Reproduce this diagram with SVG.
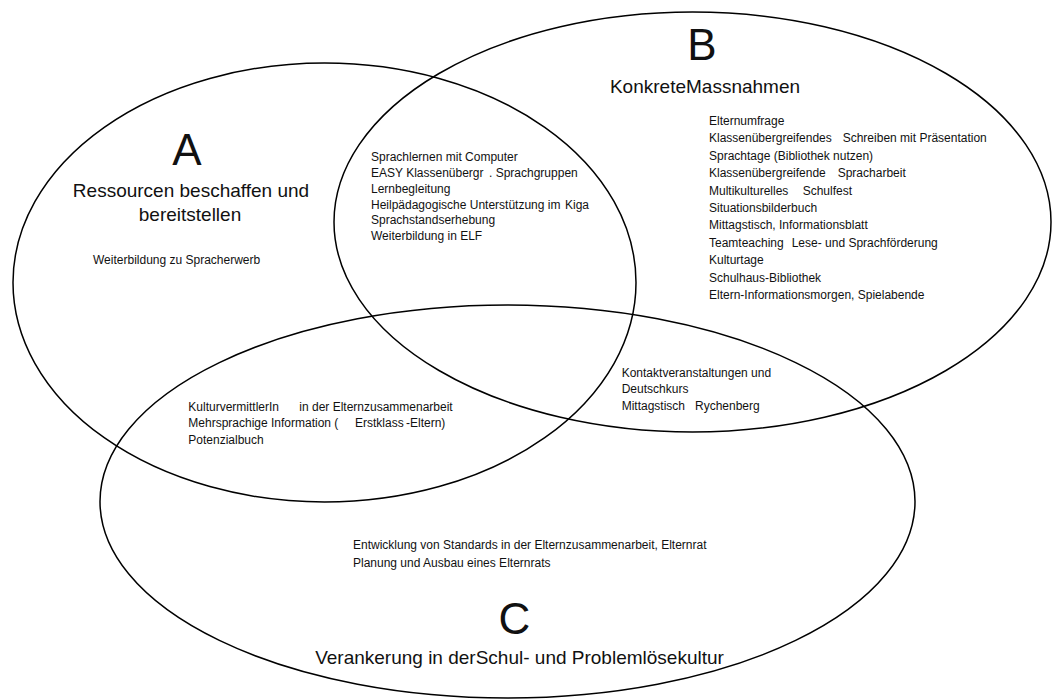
<svg xmlns="http://www.w3.org/2000/svg" width="1053" height="699" viewBox="0 0 1053 699">
<style>
.set{fill:none;stroke:#000;stroke-width:1.5}
text{font-family:"Liberation Sans",Arial,sans-serif;fill:#111}
.big{font-size:44px;text-anchor:middle}
.title{font-size:19px;text-anchor:middle}
.item{font-size:12px}
</style>
<rect width="1053" height="699" fill="#fff"/>
<g id="set-A">
<ellipse class="set" cx="324.5" cy="282.5" rx="311.5" ry="219.5"/>
<text class="big" x="187" y="165">A</text>
<text class="title" x="191" y="197">Ressourcen beschaffen und</text>
<text class="title" x="190" y="221">bereitstellen</text>
<text class="item" x="93" y="264">Weiterbildung zu Spracherwerb</text>
</g>
<g id="set-B">
<ellipse class="set" cx="692.5" cy="222" rx="358.5" ry="210"/>
<text class="big" x="702" y="60">B</text>
<text class="title" x="705" y="93">KonkreteMassnahmen</text>
<text class="item" x="709" y="125">Elternumfrage</text>
<text class="item" x="709" y="142.4">Klassenübergreifendes<tspan x="842.7">Schreiben mit Präsentation</tspan></text>
<text class="item" x="709" y="159.8">Sprachtage (Bibliothek nutzen)</text>
<text class="item" x="709" y="177.2">Klassenübergreifende<tspan x="837.7">Spracharbeit</tspan></text>
<text class="item" x="709" y="194.6">Multikulturelles<tspan x="802.7">Schulfest</tspan></text>
<text class="item" x="709" y="212">Situationsbilderbuch</text>
<text class="item" x="709" y="229.4">Mittagstisch, Informationsblatt</text>
<text class="item" x="709" y="246.8">Teamteaching<tspan x="791.7">Lese- und Sprachförderung</tspan></text>
<text class="item" x="709" y="264.2">Kulturtage</text>
<text class="item" x="709" y="281.6">Schulhaus-Bibliothek</text>
<text class="item" x="709" y="299">Eltern-Informationsmorgen, Spielabende</text>
</g>
<g id="set-C">
<ellipse class="set" cx="507.5" cy="501.5" rx="407.5" ry="196.5"/>
<text class="big" x="514.5" y="634">C</text>
<text class="title" x="519.5" y="664">Verankerung in derSchul- und Problemlösekultur</text>
<text class="item" x="353" y="549">Entwicklung von Standards in der Elternzusammenarbeit, Elternrat</text>
<text class="item" x="353" y="567">Planung und Ausbau eines Elternrats</text>
</g>
<g id="overlap-AB">
<text class="item" x="371" y="160.7">Sprachlernen mit Computer</text>
<text class="item" x="371" y="176.7">EASY Klassenübergr<tspan x="489">. Sprachgruppen</tspan></text>
<text class="item" x="371" y="192.7">Lernbegleitung</text>
<text class="item" x="371" y="208.7">Heilpädagogische Unterstützung im<tspan x="565">Kiga</tspan></text>
<text class="item" x="371" y="224.3">Sprachstandserhebung</text>
<text class="item" x="371" y="240">Weiterbildung in ELF</text>
</g>
<g id="overlap-AC">
<text class="item" x="188.3" y="410.5">KulturvermittlerIn<tspan x="299.3">in der Elternzusammenarbeit</tspan></text>
<text class="item" x="188.3" y="427">Mehrsprachige Information (<tspan x="355">Erstklass</tspan><tspan x="406">-Eltern)</tspan></text>
<text class="item" x="188.3" y="443.5">Potenzialbuch</text>
</g>
<g id="overlap-BC">
<text class="item" x="621.7" y="376.7">Kontaktveranstaltungen und</text>
<text class="item" x="621.7" y="393.3">Deutschkurs</text>
<text class="item" x="621.7" y="410">Mittagstisch<tspan x="695">Rychenberg</tspan></text>
</g>
</svg>
